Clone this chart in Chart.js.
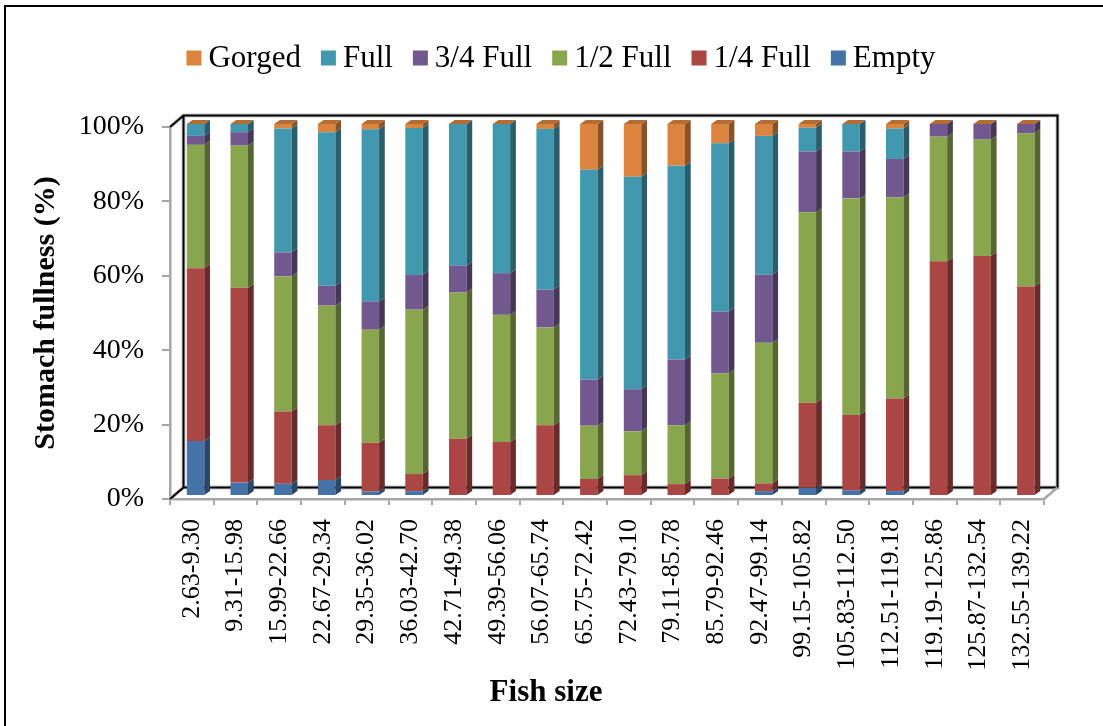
<!DOCTYPE html>
<html>
<head>
<meta charset="utf-8">
<title>Stomach fullness by fish size</title>
<script src="https://cdn.jsdelivr.net/npm/chart.js@4.4.1/dist/chart.umd.min.js"></script>
<style>
  html, body { margin: 0; padding: 0; background: #fff; }
  #wrap { width: 1103px; height: 726px; }
</style>
</head>
<body>
<div id="wrap"><canvas id="chart" width="1103" height="726"></canvas></div>
<script>
  // --- Data ---
  const sizeClasses = ["2.63-9.30", "9.31-15.98", "15.99-22.66", "22.67-29.34", "29.35-36.02",
    "36.03-42.70", "42.71-49.38", "49.39-56.06", "56.07-65.74", "65.75-72.42", "72.43-79.10",
    "79.11-85.78", "85.79-92.46", "92.47-99.14", "99.15-105.82", "105.83-112.50",
    "112.51-119.18", "119.19-125.86", "125.87-132.54", "132.55-139.22"];

  const empty   = [14.8, 3.6, 3.3, 4.3, 1.2, 1.3, 0, 0, 0, 0, 0, 0, 0, 1.3, 2.2, 1.5, 1.3, 0, 0, 0];
  const quarter = [46.4, 52.4, 19.4, 14.7, 13.1, 4.6, 15.4, 14.5, 19.0, 4.6, 5.6, 3.2, 4.7, 2.1, 22.9, 20.3, 24.9, 63.1, 64.5, 56.3];
  const half    = [33.2, 38.2, 36.4, 32.2, 30.4, 44.2, 39.3, 34.2, 26.3, 14.3, 11.8, 15.8, 28.3, 37.8, 51.2, 58.2, 54.1, 33.5, 31.3, 41.2];
  const threeQ  = [2.4, 3.6, 6.4, 5.3, 7.6, 9.3, 7.2, 11.2, 10.2, 12.4, 11.3, 17.7, 16.6, 18.3, 16.3, 12.6, 10.3, 3.4, 4.2, 2.5];
  const full    = [3.2, 2.2, 33.3, 41.3, 46.3, 39.5, 38.1, 40.1, 43.2, 56.4, 57.1, 52.1, 45.2, 37.3, 6.4, 7.4, 8.2, 0, 0, 0];
  const gorged  = [0, 0, 1.2, 2.2, 1.4, 1.1, 0, 0, 1.3, 12.3, 14.2, 11.2, 5.2, 3.2, 1.0, 0, 1.2, 0, 0, 0];

  const yTicks = [0, 20, 40, 60, 80, 100];

  // --- Look ---
  const SERIF = "'Liberation Serif', 'Times New Roman', serif";
  const AXIS_GREY = '#a6a6a6';
  const WALL_DEPTH = { x: 13.5, y: -11.5 };  // back wall / floor offset
  const BAR_SHIFT = { x: 3.7, y: -3 };       // bars stand a little behind the axis plane
  const BAR_DEPTH = { x: 5.7, y: -4 };       // thickness of each column

  const shade = (hex, f) => {
    const n = parseInt(hex.slice(1), 16);
    const r = Math.round(((n >> 16) & 255) * f);
    const g = Math.round(((n >> 8) & 255) * f);
    const b = Math.round((n & 255) * f);
    return `rgb(${r},${g},${b})`;
  };

  // bottom of the stack first
  const series = [
    { label: 'Empty',    data: empty,   color: '#4572A7' },
    { label: '1/4 Full', data: quarter, color: '#AA4643' },
    { label: '1/2 Full', data: half,    color: '#89A54E' },
    { label: '3/4 Full', data: threeQ,  color: '#71588F' },
    { label: 'Full',     data: full,    color: '#4198AF' },
    { label: 'Gorged',   data: gorged,  color: '#DB843D' }
  ];

  // --- 3D walls, column sides and tops ---
  const box3d = {
    id: 'box3d',
    beforeDatasetsDraw(chart) {
      const { ctx, chartArea: a } = chart;
      const dx = WALL_DEPTH.x, dy = WALL_DEPTH.y;
      ctx.save();
      ctx.lineJoin = 'miter';
      const wall = () => {
        ctx.beginPath();
        ctx.moveTo(a.left, a.top);
        ctx.lineTo(a.left + dx, a.top + dy);
        ctx.lineTo(a.right + dx, a.top + dy);
        ctx.lineTo(a.right + dx, a.bottom + dy);
        ctx.lineTo(a.left + dx, a.bottom + dy);
        ctx.lineTo(a.left + dx, a.top + dy);
        ctx.moveTo(a.left, a.bottom);
        ctx.lineTo(a.left + dx, a.bottom + dy);
      };
      ctx.strokeStyle = '#c8c8c8';
      ctx.lineWidth = 4;
      wall(); ctx.stroke();
      ctx.strokeStyle = '#000';
      ctx.lineWidth = 2;
      wall(); ctx.stroke();
      // right edge of the floor
      ctx.strokeStyle = AXIS_GREY;
      ctx.lineWidth = 2.5;
      ctx.beginPath();
      ctx.moveTo(a.right, a.bottom);
      ctx.lineTo(a.right + dx, a.bottom + dy);
      ctx.stroke();
      ctx.restore();

      ctx.save();
      ctx.translate(BAR_SHIFT.x, BAR_SHIFT.y);
    },
    afterDatasetsDraw(chart) {
      const { ctx } = chart;
      const last = chart.data.datasets.length - 1;
      chart.data.datasets.forEach((ds, i) => {
        const meta = chart.getDatasetMeta(i);
        meta.data.forEach(el => {
          const { x, y, base, width } = el.getProps(['x', 'y', 'base', 'width'], true);
          const r = x + width / 2, l = x - width / 2;
          if (base - y > 0.01) {
            ctx.fillStyle = shade(ds.backgroundColor, 0.62);
            ctx.beginPath();
            ctx.moveTo(r, y);
            ctx.lineTo(r + BAR_DEPTH.x, y + BAR_DEPTH.y);
            ctx.lineTo(r + BAR_DEPTH.x, base + BAR_DEPTH.y);
            ctx.lineTo(r, base);
            ctx.closePath();
            ctx.fill();
          }
          if (i === last) {
            ctx.fillStyle = shade(ds.backgroundColor, 0.82);
            ctx.beginPath();
            ctx.moveTo(l, y);
            ctx.lineTo(l + BAR_DEPTH.x, y + BAR_DEPTH.y);
            ctx.lineTo(r + BAR_DEPTH.x, y + BAR_DEPTH.y);
            ctx.lineTo(r, y);
            ctx.closePath();
            ctx.fill();
          }
        });
      });
      ctx.restore();
    },
    afterDraw(chart) {
      const { ctx } = chart;
      ctx.save();
      // frame round the figure
      ctx.strokeStyle = '#000';
      ctx.lineWidth = 2;
      ctx.strokeRect(5, 6, 1110, 740);

      // x axis title sits left of the plot centre
      ctx.fillStyle = '#000';
      ctx.font = `bold 31px ${SERIF}`;
      ctx.textAlign = 'center';
      ctx.textBaseline = 'middle';
      ctx.fillText('Fish size', 546, 693);

      // legend, in reverse stacking order
      const items = chart.data.datasets.slice().reverse();
      ctx.font = `31px ${SERIF}`;
      ctx.textAlign = 'left';
      const box = 15, gap = 7, spacing = 20;
      const widths = items.map(d => box + gap + ctx.measureText(d.label).width);
      const total = widths.reduce((s, w) => s + w, 0) + spacing * (items.length - 1);
      let cx = 561 - total / 2;
      const cy = 58;
      items.forEach((d, i) => {
        ctx.fillStyle = d.backgroundColor;
        ctx.fillRect(cx, cy - box / 2, box, box);
        ctx.fillStyle = '#000';
        ctx.fillText(d.label, cx + box + gap, cy + 1);
        cx += widths[i] + spacing;
      });
      ctx.restore();
    }
  };

  // --- Chart ---
  new Chart(document.getElementById('chart'), {
    type: 'bar',
    data: {
      labels: sizeClasses,
      datasets: series.map(s => ({
        label: s.label,
        data: s.data,
        backgroundColor: s.color,
        borderWidth: 0,
        clip: false,
        categoryPercentage: 1,
        barPercentage: 0.4
      }))
    },
    options: {
      responsive: false,
      animation: false,
      layout: { padding: { top: 127, left: 0, right: 59, bottom: 0 } },
      plugins: {
        legend: { display: false },
        tooltip: { enabled: false }
      },
      scales: {
        x: {
          stacked: true,
          afterFit: s => { s.height = 227; },
          grid: { drawOnChartArea: false, color: AXIS_GREY, lineWidth: 2, tickLength: 6 },
          border: { color: AXIS_GREY, width: 2.5 },
          ticks: {
            autoSkip: false, minRotation: 90, maxRotation: 90, padding: 14,
            color: '#000', font: { family: SERIF, size: 26 }
          }
        },
        y: {
          stacked: true,
          min: 0, max: 100,
          afterFit: s => { s.width = 170; },
          afterBuildTicks: s => { s.ticks = yTicks.map(v => ({ value: v })); },
          grid: { drawOnChartArea: false, color: AXIS_GREY, lineWidth: 2, tickLength: 8 },
          border: { color: AXIS_GREY, width: 2.5 },
          ticks: {
            padding: 18, color: '#000',
            font: { family: SERIF, size: 28 },
            callback: v => v + '%'
          },
          title: {
            display: true, text: 'Stomach fullness (%)', color: '#000',
            font: { family: SERIF, size: 30, weight: 'bold' }, padding: { top: 28 }
          }
        }
      }
    },
    plugins: [box3d]
  });
</script>
</body>
</html>
